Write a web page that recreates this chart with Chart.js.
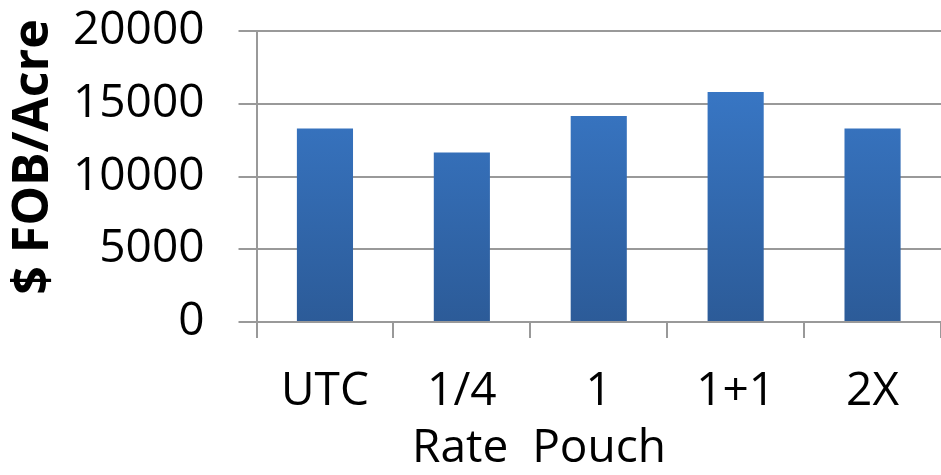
<!DOCTYPE html>
<html>
<head>
<meta charset="utf-8">
<script src="https://cdn.jsdelivr.net/npm/chart.js@4.4.1/dist/chart.umd.min.js"></script>
<style>
  body { margin: 0; background: #fff; overflow: hidden; }
</style>
</head>
<body>
<canvas id="chartPouch" width="941" height="475"></canvas>
<script>
// datos
const categorias = ["UTC", "1/4", "1", "1+1", "2X"];
const valores = [13300, 11650, 14150, 15800, 13300];
const ticksY = [0, 5000, 10000, 15000, 20000];

const ctxPouch = document.getElementById("chartPouch").getContext("2d");

// degradado azul de las barras (claro arriba, oscuro abajo)
function gradienteBarra(context) {
  const chart = context.chart;
  const area = chart.chartArea;
  if (!area) return "#3572c0";
  const g = chart.ctx.createLinearGradient(0, area.top, 0, area.bottom);
  g.addColorStop(0, "#3b7dcf");
  g.addColorStop(1, "#2c5b98");
  return g;
}

const fuenteTicks = { family: "'Open Sans'", size: 46, lineHeight: 1 };

const chartPouch = new Chart(ctxPouch, {
  type: "bar",
  data: {
    labels: categorias,
    datasets: [
      {
        label: "$ FOB/Acre",
        data: valores,
        backgroundColor: gradienteBarra,
        borderWidth: 0,
        barPercentage: 0.41,
        categoryPercentage: 1,
      },
    ],
  },
  options: {
    responsive: false,
    animation: false,
    layout: {
      padding: { top: 31, right: 0, left: 0, bottom: -5 },
    },
    plugins: {
      legend: { display: false },
      tooltip: { enabled: false },
    },
    scales: {
      x: {
        offset: true,
        grid: {
          offset: true,
          drawOnChartArea: false,
          color: "#999999",
          lineWidth: 2,
          tickLength: 16,
        },
        border: { display: false },
        ticks: {
          color: "#000",
          font: fuenteTicks,
          padding: 31,
          maxRotation: 0,
        },
        title: {
          display: true,
          // espacios al final para correr el titulo a la izquierda como en el original
          text: "Rate  Pouch" + "\u00a0".repeat(10),
          color: "#000",
          font: { family: "'Open Sans'", size: 46, lineHeight: 1 },
          padding: { top: -20, bottom: 8 },
        },
      },
      y: {
        min: 0,
        max: 20000,
        afterBuildTicks: (axis) => {
          axis.ticks = ticksY.map((v) => ({ value: v }));
        },
        // el padding de los ticks no debe empujar el area hacia abajo
        afterFit: (axis) => {
          axis.paddingTop = 0;
        },
        grid: {
          color: "#999999",
          lineWidth: 2,
          tickLength: 18,
        },
        border: { display: true, color: "#999999", width: 2 },
        ticks: {
          color: "#000",
          font: fuenteTicks,
          padding: 34,
          callback: (v) => String(v),
        },
        title: {
          display: true,
          text: "\u00a0\u00a0\u00a0$ FOB/Acre",
          color: "#000",
          font: { family: "'Open Sans'", size: 50, weight: "bold", lineHeight: 1 },
          padding: { top: 9, bottom: -20 },
        },
      },
    },
  },
});
</script>
</body>
</html>
